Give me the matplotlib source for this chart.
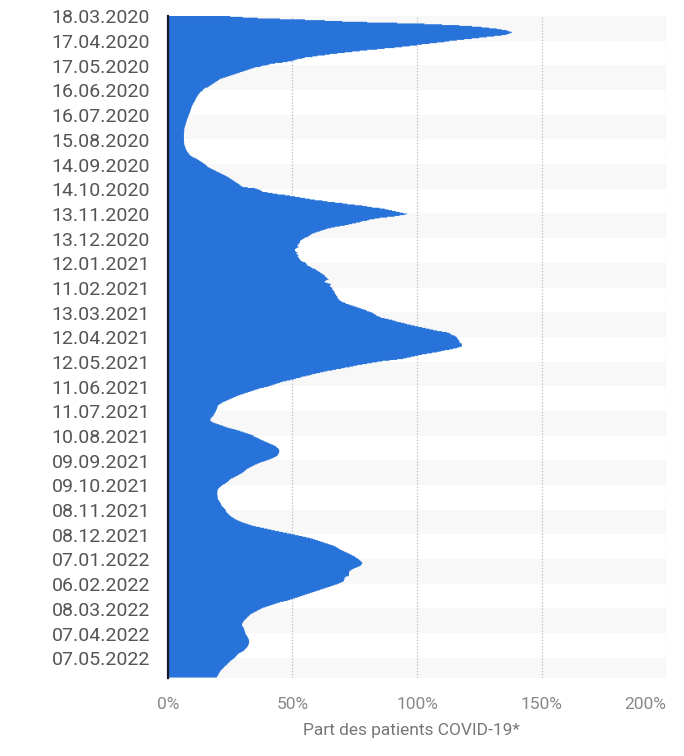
import numpy as np
import matplotlib.pyplot as plt

plt.rcParams['font.family'] = ['Roboto', 'DejaVu Sans']

# daily share of COVID-19 patients (%), starting 18.03.2020, one row = 30 days
share_p1 = [
    25, 30, 36, 45, 55, 63, 70, 80, 92, 103, 110, 117, 122, 126, 129, 132, 134, 136, 137, 138, 138, 137, 136, 134, 131, 128, 125, 122, 119, 116,
    113, 111, 108, 105, 102, 100, 97, 94, 91, 87, 84, 80, 77, 74, 71, 68, 65, 63, 60, 58, 55, 54, 52, 51, 50, 48, 46, 43, 41, 40,
    38, 37, 35, 34, 33, 32, 31, 30, 29, 28, 27, 26, 25, 24, 23, 22, 21, 20.5, 20, 19.5, 19, 18.5, 18, 17.5, 17, 16.5, 16, 15, 14.5, 14,
    14, 13.5, 13, 12.8, 12.5, 12.2, 12, 11.8, 11.6, 11.4, 11.2, 11, 11, 10.8, 10.5, 10.3, 10.1, 10, 9.8, 9.6, 9.5, 9.4, 9.3, 9.2, 9.1, 9, 8.8, 8.7, 8.6, 8.5,
    8.3, 8.2, 8.1, 8, 7.8, 7.7, 7.6, 7.5, 7.4, 7.3, 7.2, 7.1, 7, 6.9, 6.8, 6.7, 6.6, 6.6, 6.5, 6.5, 6.5, 6.5, 6.4, 6.4, 6.4, 6.4, 6.4, 6.4, 6.4, 6.4,
    6.4, 6.4, 6.5, 6.5, 6.5, 6.5, 6.6, 6.7, 6.8, 7, 7, 7.2, 7.3, 7.5, 7.7, 7.9, 8.2, 8.5, 8.7, 9, 9.5, 10, 10.8, 11.5, 12, 12.5, 13, 13.6, 14, 14.5,
    15, 15.3, 15.7, 16, 16.7, 17.3, 18, 18.7, 19.3, 20, 20.7, 21.3, 22, 22.7, 23.3, 24, 24.5, 25, 25.5, 26, 26.5, 27, 27.5, 28, 28.5, 29, 29.3, 30, 32, 35,
    36, 37, 37.5, 38, 40, 42, 44, 47, 49, 51, 53, 55, 57, 59, 62, 64, 67, 70, 72, 75, 78, 80, 82, 85, 87, 88.5, 90, 91.5, 93, 94.5,
    96, 95, 93, 91, 88, 85, 83, 81, 80, 78, 77, 75.5, 74, 72.5, 71, 69, 67, 65.5, 64, 63, 62, 61, 60, 59, 58, 57.5, 57, 56.5, 56, 55,
]
share_p2 = [
    54.5, 54, 53.5, 53, 53, 53, 52.5, 52.5, 52, 52, 52.5, 52, 51.5, 51, 51, 51, 51.5, 52, 51.5, 52, 52, 52.5, 52, 52.5, 52.5, 53, 53, 53.5, 54, 55,
    55.5, 55.5, 56, 56, 57, 57.5, 58, 59, 59.5, 60, 60.5, 61, 61.5, 62, 62.5, 63, 63, 63.5, 64, 64, 64.5, 63.5, 63, 63, 64, 65, 65.5, 65, 65, 65.5,
    66, 66, 66, 66.5, 66.5, 67, 67, 67, 67.5, 67.5, 68, 68, 68, 68.5, 68.5, 69, 69.5, 70, 71, 71.5, 72.5, 73.5, 74.5, 75.5, 76.5, 77.5, 78.5, 79.5, 80, 81,
    82, 82.5, 83, 83.5, 84, 85, 85.5, 87, 88.5, 90, 91, 92, 93.5, 95, 96, 97.5, 99, 100.5, 102, 103.5, 105, 106.5, 108, 110, 112, 113, 113.5, 114, 115, 115.5,
    116, 116, 116.5, 116.5, 117, 117, 117, 117.5, 118, 118, 118, 118, 117, 116, 114.5, 113, 111, 109.5, 108, 106, 104, 102, 100.5, 99, 97.5, 96, 94.5, 92, 89, 86,
    84, 82, 80, 78, 76, 74.5, 73, 71, 69.5, 67.5, 66, 64, 62.5, 61, 59.5, 58, 57, 55.5, 54, 53, 51.5, 50.5, 49, 47.5, 46, 45, 44, 43, 42, 41,
    40, 38.5, 37, 36, 35, 34, 33, 32, 31, 30, 29, 28, 27.3, 26.5, 25.8, 25, 24.3, 23.5, 22.8, 22, 21.5, 21, 20.5, 20, 20, 19.8, 19.7, 19.6, 19.5, 19.3,
    19.2, 19, 18.8, 18.6, 18.4, 18.3, 18, 17.7, 17.4, 17.1, 17, 17, 17.3, 17.8, 18.6, 19.5, 20.5, 21.5, 22.3, 23.2, 24.2, 25.5, 26.8, 28, 29, 30, 31, 32, 33, 34,
    34.3, 35, 35.7, 36.5, 37, 37.8, 38.5, 39.3, 40, 40.8, 41.5, 42.3, 43, 43.4, 43.8, 44.2, 44.5, 44.6, 44.7, 44.7, 44.6, 44.5, 44.3, 44.1, 43.8, 43.3, 42.6, 42, 41.2, 40.3,
]
share_p3 = [
    39.3, 38.3, 37.3, 36.5, 35.7, 35, 34.3, 33.7, 33, 32.4, 31.8, 31.4, 31, 30.6, 30.2, 29.7, 29.1, 28.5, 27.9, 27.3, 26.6, 26, 25.3, 24.8, 24.5, 24.2, 23.8, 23.3, 22.8, 22.2,
    21.7, 21.3, 20.9, 20.5, 20.2, 20, 19.9, 19.9, 19.8, 19.8, 19.8, 19.8, 19.9, 19.9, 19.9, 20, 20, 20.1, 20.4, 20.6, 20.8, 21, 21.2, 21.3, 21.5, 21.6, 22, 22.3, 22.6, 23,
    23.1, 23.2, 23.4, 23.6, 24, 24.3, 24.7, 25, 25.5, 26, 26.5, 27, 27.7, 28.4, 29.2, 30, 31, 32, 33, 34, 35.5, 37, 38.5, 40, 41.5, 43, 44.6, 46.2, 47.8, 49.5,
    51, 52.5, 54, 55.5, 57, 58.2, 59.2, 60.2, 61.2, 62.2, 63.2, 64.2, 65.2, 66.2, 67, 67.6, 68.2, 68.7, 69.2, 69.9, 70.6, 71.3, 72, 72.7, 73.4, 74, 74.7, 75.2, 75.7, 76.2,
    76.7, 77, 77.4, 77.7, 78, 78, 77.8, 77.5, 77, 76.3, 75.5, 74.7, 74, 73.5, 73, 72.8, 72.7, 72.7, 72.7, 72.7, 72.5, 71.5, 71, 71, 70.8, 70.7, 70.6, 70.2, 69.5, 68.7,
    68, 67, 66, 65, 64, 63, 62, 61, 60, 59, 58, 57, 56, 55, 54, 53, 52, 51, 50, 49, 48, 46.5, 45, 44, 43, 42, 41, 40, 39, 38,
    37.3, 36.7, 36, 35.5, 34.8, 34.2, 33.5, 33, 32.7, 32.4, 32, 31.7, 31.4, 31, 30.7, 30.4, 30.2, 30, 29.8, 29.7, 29.7, 29.9, 30.1, 30.4, 30.5, 30.6, 30.7, 30.8, 30.9, 31,
    31.1, 31.3, 31.5, 31.7, 31.9, 32.1, 32.3, 32.4, 32.5, 32.6, 32.6, 32.6, 32.5, 32.4, 32.3, 32.1, 31.9, 31.7, 31.4, 31, 30.7, 30.4, 29.8, 29.2, 28.6, 28.1, 27.8, 27.5, 27.2, 27,
    26.6, 26.2, 25.7, 25.2, 24.9, 24.6, 24.2, 23.9, 23.6, 23.2, 22.8, 22.5, 22.2, 21.9, 21.5, 21.2, 21, 20.8, 20.6, 20.4, 20.2, 20, 19.8, 19.6,
]

date_labels = ['18.03.2020', '17.04.2020', '17.05.2020', '16.06.2020', '16.07.2020', '15.08.2020',
               '14.09.2020', '14.10.2020', '13.11.2020', '13.12.2020', '12.01.2021', '11.02.2021',
               '13.03.2021', '12.04.2021', '12.05.2021', '11.06.2021', '11.07.2021', '10.08.2021',
               '09.09.2021', '09.10.2021', '08.11.2021', '08.12.2021', '07.01.2022', '06.02.2022',
               '08.03.2022', '07.04.2022', '07.05.2022']
x_ticks = [0, 50, 100, 150, 200]

values = np.array(share_p1 + share_p2 + share_p3, dtype=float)
n = len(values)
edges = np.arange(n + 1)

fig = plt.figure(figsize=(6.84, 7.56), dpi=100)
ax = fig.add_axes([0.2456, 0.1038, 0.7281, 0.875])

# alternating background stripes, one per 30 days
for k in range(0, n, 60):
    ax.axhspan(k, min(k + 30, n), color='#f8f8f8', lw=0, zorder=0)

ax.stairs(values, edges, orientation='horizontal', fill=True, baseline=0,
          color='#2873d9', zorder=2)

for xv in x_ticks[1:]:
    ax.axvline(xv, color='#bbbbbb', lw=0.9, ls=(0, (1, 1.5)), zorder=1)

ax.set_xlim(0, 200)
ax.set_ylim(n, 0)
ax.set_xticks(x_ticks)
ax.set_xticklabels([f'{v}%' for v in x_ticks])
ax.get_xticklabels()[-1].set_ha('right')
ax.set_yticks(np.arange(len(date_labels)) * 30 + 0.5)
ax.set_yticklabels(date_labels)

for s in ['top', 'right', 'bottom']:
    ax.spines[s].set_visible(False)
ax.spines['left'].set_color('#1a1a2a')
ax.spines['left'].set_linewidth(1.6)
ax.spines['left'].set_zorder(3)

ax.tick_params(axis='y', length=0, pad=13, labelsize=14, labelcolor='#555555')
ax.tick_params(axis='x', length=0, pad=14, labelsize=12.5, labelcolor='#888888')
ax.set_xlabel('Part des patients COVID-19*', fontsize=12.5, color='#777777', labelpad=11)
ax.xaxis.set_label_coords(0.488, -0.068)

plt.savefig('out.png', dpi=100)
